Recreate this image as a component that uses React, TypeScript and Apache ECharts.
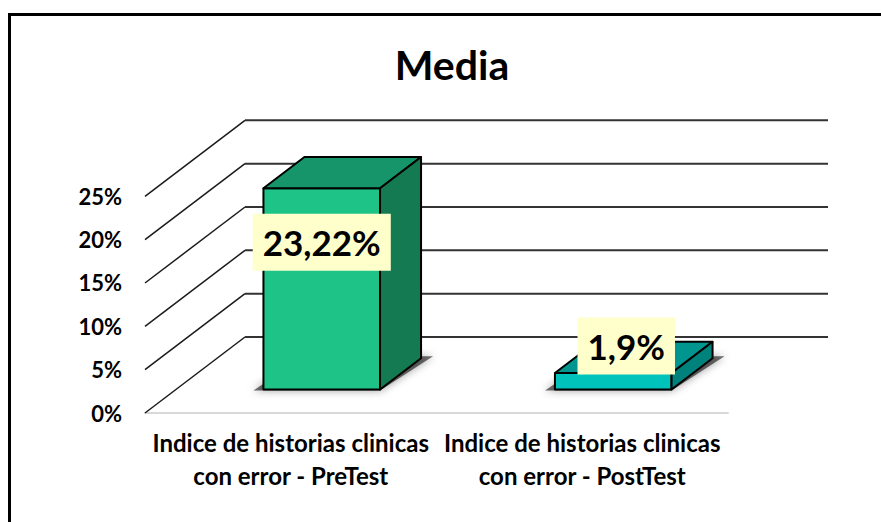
import React, { useEffect, useRef } from 'react';
import * as echarts from 'echarts';

const TITLE = 'Media';
const CATEGORIES = [
  'Indice de historias clinicas con error - PreTest',
  'Indice de historias clinicas con error - PostTest',
];
const VALUES = [23.22, 1.9];
const Y_TICKS = [0, 5, 10, 15, 20, 25];

// styles (not data)
const FRONT = ['#1EC487', '#00C4BC'];
const TOPC = ['#17956A', '#00968F'];
const SIDE = ['#147A52', '#00827C'];
const LABEL_OFFSET = [
  [0, 54],
  [13, -27],
];
const DX = 100;
const DY = -76;
const D0 = 0.31;
const D1 = 0.72;
const FONT = 'Lato, "Open Sans", sans-serif';

export default function App() {
  const ref = useRef<HTMLDivElement>(null);
  useEffect(() => {
    if (!ref.current) return;
    const chart = echarts.init(ref.current, undefined, { renderer: 'svg' });

    const wallItem = (params: any, api: any) => {
      const cs = params.coordSys;
      const y = api.coord([0, api.value(1)])[1];
      const x0 = cs.x;
      const x1 = cs.x + cs.width;
      return {
        type: 'group',
        children: [
          {
            type: 'line',
            shape: { x1: x0, y1: y, x2: x0 + DX, y2: y + DY },
            style: { stroke: '#1a1a1a', lineWidth: 1.5 },
          },
          {
            type: 'line',
            shape: { x1: x0 + DX, y1: y + DY, x2: x1 + DX, y2: y + DY },
            style: { stroke: '#333333', lineWidth: 2 },
          },
        ],
      };
    };

    const barItem = (params: any, api: any) => {
      const i = api.value(0);
      const v = api.value(1);
      const idx = params.dataIndex;
      const base = api.coord([i, 0]);
      const top = api.coord([i, v]);
      const cw = api.size([1, 0])[0];
      const w = cw * 0.4;
      const x0 = base[0] - w / 2 + DX * D0;
      const x1 = x0 + w;
      const yb = base[1] + DY * D0;
      const yt = top[1] + DY * D0;
      const bx = DX * (D1 - D0);
      const by = DY * (D1 - D0);
      const stroke = { stroke: '#000', lineWidth: 2, lineJoin: 'round' };
      const label = String(v).replace('.', ',') + '%';
      const off = LABEL_OFFSET[idx];
      return {
        type: 'group',
        children: [
          {
            type: 'polygon',
            shape: {
              points: [
                [x0 - 10, yb + 1],
                [x1, yb + 1],
                [x1 + bx + 12, yb + by - 2],
                [x0 + bx, yb + by - 2],
              ],
            },
            style: {
              fill: 'rgba(0,0,0,0.55)',
              shadowBlur: 8,
              shadowColor: 'rgba(0,0,0,0.7)',
            },
          },
          {
            type: 'polygon',
            shape: { points: [[x0, yt], [x1, yt], [x1, yb], [x0, yb]] },
            style: { fill: FRONT[idx], ...stroke },
          },
          {
            type: 'polygon',
            shape: {
              points: [
                [x0, yt],
                [x1, yt],
                [x1 + bx, yt + by],
                [x0 + bx, yt + by],
              ],
            },
            style: { fill: TOPC[idx], ...stroke },
          },
          {
            type: 'polygon',
            shape: {
              points: [
                [x1, yt],
                [x1 + bx, yt + by],
                [x1 + bx, yb + by],
                [x1, yb],
              ],
            },
            style: { fill: SIDE[idx], ...stroke },
          },
          {
            type: 'text',
            x: (x0 + x1) / 2 + off[0],
            y: yt + off[1],
            style: {
              text: label,
              font: `bold 35px ${FONT}`,
              fill: '#000',
              align: 'center',
              verticalAlign: 'middle',
              textAlign: 'center',
              textVerticalAlign: 'middle',
              backgroundColor: '#FFFFCC',
              padding: [10, 10],
              lineHeight: 37,
            },
          },
        ],
      };
    };

    chart.setOption({
      animation: false,
      backgroundColor: '#fff',
      title: {
        text: TITLE,
        left: 447,
        top: 39,
        textAlign: 'center',
        textStyle: { fontFamily: FONT, fontWeight: 'bold', fontSize: 41, color: '#000' },
      },
      grid: { left: 145, right: 153, top: 196.33, bottom: 109, containLabel: false },
      xAxis: {
        type: 'category',
        data: CATEGORIES,
        axisLine: { show: true, lineStyle: { color: '#d9d9d9', width: 2 } },
        axisTick: { show: false },
        axisLabel: {
          interval: 0,
          margin: 13,
          fontFamily: FONT,
          fontWeight: 'bold',
          fontSize: 24,
          lineHeight: 33,
          color: '#000',
          formatter: (s: string) => s.replace(' con ', '\ncon '),
        },
      },
      yAxis: {
        type: 'value',
        min: 0,
        max: 25,
        interval: 5,
        axisLine: { show: false },
        axisTick: { show: false },
        splitLine: { show: false },
        axisLabel: {
          formatter: '{value}%',
          margin: 23,
          fontFamily: FONT,
          fontWeight: 'bold',
          fontSize: 22,
          color: '#000',
        },
      },
      graphic: [
        {
          type: 'polyline',
          shape: { points: [[9.5, 530], [9.5, 14.5], [890, 14.5]] },
          style: { stroke: '#000', lineWidth: 3, fill: 'none' },
          z: 100,
        },
      ],
      series: [
        {
          type: 'custom',
          name: 'wall',
          data: Y_TICKS.map((t) => [0, t]),
          encode: { x: 0, y: 1 },
          renderItem: wallItem,
          clip: false,
          silent: true,
          z: 1,
        },
        {
          type: 'custom',
          name: TITLE,
          data: VALUES.map((v, i) => [i, v]),
          encode: { x: 0, y: 1 },
          renderItem: barItem,
          clip: false,
          z: 2,
        },
      ],
    });
    return () => chart.dispose();
  }, []);
  return (
    <div
      ref={ref}
      style={{ position: 'fixed', left: 0, top: 0, width: 881, height: 522 }}
    />
  );
}
